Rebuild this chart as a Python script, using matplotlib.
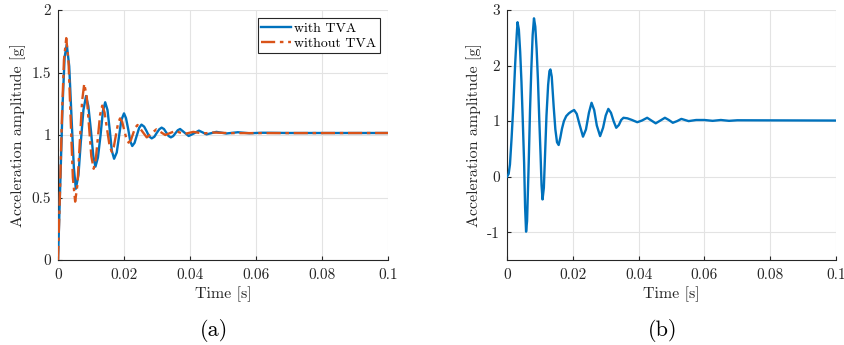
import matplotlib
matplotlib.use("Agg")
import matplotlib.pyplot as plt

plt.rcParams['font.family'] = ['cmr10', 'DejaVu Serif']
plt.rcParams['mathtext.fontset'] = 'cm'
plt.rcParams['axes.unicode_minus'] = False

# ---- data ----
# (a) with TVA
t_with = [0.0, 0.0007, 0.0014, 0.0020, 0.00265,
          0.0034, 0.0041, 0.0048, 0.0054,
          0.0062, 0.0069, 0.0077, 0.0085,
          0.0092, 0.0100, 0.0107, 0.01135,
          0.0121, 0.0129, 0.0136, 0.0143,
          0.0150, 0.0157, 0.0163, 0.0170,
          0.0178, 0.0185, 0.0192, 0.0200,
          0.0206, 0.0213, 0.0219, 0.0225,
          0.0232, 0.0239, 0.0246, 0.0253,
          0.0261, 0.0269, 0.0276, 0.0284,
          0.0292, 0.0299, 0.0307, 0.0314,
          0.0321, 0.0328, 0.0335, 0.0342,
          0.0349, 0.0356, 0.0363, 0.0370,
          0.0383, 0.0396, 0.0412, 0.0427,
          0.0439, 0.0450, 0.0480, 0.0510, 0.0545,
          0.0580, 0.0620, 0.0700, 0.1000]
a_with = [0.0, 0.62, 1.25, 1.62, 1.725,
          1.55, 1.14, 0.74, 0.57,
          0.68, 0.94, 1.20, 1.312,
          1.23, 1.03, 0.83, 0.747,
          0.82, 1.00, 1.19, 1.262,
          1.20, 1.035, 0.875, 0.81,
          0.86, 0.99, 1.12, 1.173,
          1.135, 1.043, 0.95, 0.912,
          0.937, 0.998, 1.058, 1.083,
          1.067, 1.028, 0.989, 0.973,
          0.986, 1.016, 1.046, 1.059,
          1.048, 1.02, 0.992, 0.981,
          0.991, 1.015, 1.038, 1.048,
          1.02, 0.992, 1.013, 1.035,
          1.02, 1.005, 1.025, 1.012, 1.022,
          1.014, 1.018, 1.016, 1.016]

# (a) without TVA
t_without = [0.0, 0.0006, 0.0012, 0.0018, 0.0025,
             0.0032, 0.00385, 0.0045, 0.0052,
             0.0059, 0.0066, 0.0073, 0.00795,
             0.0087, 0.0094, 0.0101, 0.0108,
             0.01145, 0.0121, 0.01275, 0.0134,
             0.0141, 0.01485, 0.0156, 0.0163,
             0.0169, 0.01755, 0.0182, 0.0188,
             0.01945, 0.0201, 0.02075, 0.0214,
             0.0221, 0.02275, 0.0234, 0.0241,
             0.0255, 0.0269, 0.02835, 0.0298,
             0.0312, 0.0325, 0.0340, 0.0355,
             0.0383, 0.0410, 0.0440, 0.0470, 0.0520, 0.1000]
a_without = [0.0, 0.55, 1.15, 1.60, 1.775,
             1.58, 1.12, 0.66, 0.467,
             0.605, 0.94, 1.27, 1.41,
             1.31, 1.07, 0.83, 0.73,
             0.804, 0.983, 1.161, 1.235,
             1.181, 1.05, 0.919, 0.865,
             0.904, 0.999, 1.094, 1.133,
             1.105, 1.036, 0.967, 0.939,
             0.96, 1.01, 1.059, 1.08,
             1.03, 0.981, 1.013, 1.045,
             1.022, 1.0, 1.016, 1.032,
             1.008, 1.025, 1.012, 1.02, 1.015, 1.016]

# (b)
t_b = [0.0, 0.0005, 0.0009, 0.0014, 0.0019, 0.0025, 0.00295, 0.0032,
       0.0036, 0.0040, 0.0044, 0.0048, 0.0052, 0.0055, 0.0058,
       0.0061, 0.0066, 0.0070, 0.0074, 0.0078, 0.0082,
       0.0086, 0.0090, 0.0094, 0.0098, 0.0102, 0.0105, 0.0108,
       0.0112, 0.0116, 0.0120, 0.0125, 0.0129, 0.0132,
       0.0136, 0.0142, 0.0147, 0.0152, 0.0157,
       0.0162, 0.0167, 0.0173, 0.0180, 0.0188, 0.0195, 0.0204,
       0.0212, 0.0220, 0.0231, 0.0240, 0.0249, 0.0257,
       0.0265, 0.0273, 0.0283, 0.0292, 0.0300, 0.0308,
       0.0316, 0.0324, 0.0332, 0.0340, 0.0347, 0.0354,
       0.0366, 0.0380, 0.0396, 0.0410, 0.0426,
       0.0439, 0.0452, 0.0466, 0.0480, 0.0492, 0.0504,
       0.0517, 0.0530, 0.0552, 0.0575, 0.0600, 0.0625,
       0.0650, 0.0675, 0.0700, 0.1000]
a_b = [0.0, 0.05, 0.22, 0.70, 1.25, 2.05, 2.55, 2.78,
       2.65, 2.25, 1.70, 1.00, 0.25, -0.55, -0.99,
       -0.80, 0.25, 1.20, 1.95, 2.55, 2.85,
       2.70, 2.30, 1.75, 1.05, 0.40, -0.15, -0.41,
       -0.20, 0.45, 1.10, 1.65, 1.90, 1.93,
       1.80, 1.25, 0.85, 0.62, 0.57,
       0.70, 0.86, 1.00, 1.09, 1.14, 1.17, 1.20,
       1.13, 0.95, 0.72, 0.85, 1.15, 1.33,
       1.20, 0.92, 0.73, 0.88, 1.10, 1.22,
       1.15, 1.00, 0.88, 0.93, 1.02, 1.06,
       1.05, 1.02, 0.98, 1.01, 1.06,
       1.01, 0.96, 1.01, 1.06, 1.02, 0.97,
       1.00, 1.04, 1.00, 1.02, 1.02, 1.005,
       1.02, 1.005, 1.015, 1.01]

xticks = [0, 0.02, 0.04, 0.06, 0.08, 0.1]
xticklabels = ['0', '0.02', '0.04', '0.06', '0.08', '0.1']
yticks_a = [0, 0.5, 1, 1.5, 2]
yticklabels_a = ['0', '0.5', '1', '1.5', '2']
yticks_b = [-1, 0, 1, 2, 3]
yticklabels_b = ['-1', '0', '1', '2', '3']

BLUE = '#0072BD'
ORANGE = '#D95319'
AXC = '#262626'

fig = plt.figure(figsize=(8.44, 3.45), dpi=100)
ax1 = fig.add_axes([58/844, 85/345, 330/844, 250/345])
ax2 = fig.add_axes([507/844, 85/345, 329/844, 250/345])

def style(ax, yticks, ylabels, ylim):
    ax.set_xlim(0, 0.1)
    ax.set_ylim(*ylim)
    ax.set_xticks(xticks)
    ax.set_xticklabels(xticklabels)
    ax.set_yticks(yticks)
    ax.set_yticklabels(ylabels)
    ax.grid(True, color='#e3e3e3', linewidth=0.8)
    ax.set_axisbelow(True)
    for s in ['top', 'right']:
        ax.spines[s].set_visible(False)
    for s in ['left', 'bottom']:
        ax.spines[s].set_color(AXC)
        ax.spines[s].set_linewidth(0.8)
    ax.tick_params(direction='in', length=3, width=0.8, colors=AXC,
                   labelsize=11)
    ax.tick_params(axis='x', pad=6)
    ax.tick_params(axis='y', pad=5)
    ax.set_xlabel('Time [s]', fontsize=11.5, color=AXC, labelpad=3)
    ax.set_ylabel('Acceleration amplitude [g]', fontsize=11.5, color=AXC, labelpad=4)

ax1.plot(t_with, a_with, color=BLUE, lw=1.7, label='with TVA', zorder=3)
ax1.plot(t_without, a_without, color=ORANGE, lw=1.7,
         linestyle=(0, (6, 2, 1.5, 2)), label='without TVA', zorder=4)
style(ax1, yticks_a, yticklabels_a, (0, 2))
leg = ax1.legend(loc='upper right', fontsize=10, frameon=True, fancybox=False,
                 edgecolor=AXC, framealpha=1, borderaxespad=0.6,
                 handlelength=2.15, handletextpad=0.2, labelspacing=0.2,
                 borderpad=0.25)
leg.get_frame().set_linewidth(0.8)

ax2.plot(t_b, a_b, color=BLUE, lw=1.7, zorder=3)
style(ax2, yticks_b, yticklabels_b, (-1.5, 3))

fig.text(214/844, 1 - 330/345, '(a)', ha='center', va='center', fontsize=16, color='black')
fig.text(663/844, 1 - 330/345, '(b)', ha='center', va='center', fontsize=16, color='black')

fig.savefig('out.png', dpi=100)
